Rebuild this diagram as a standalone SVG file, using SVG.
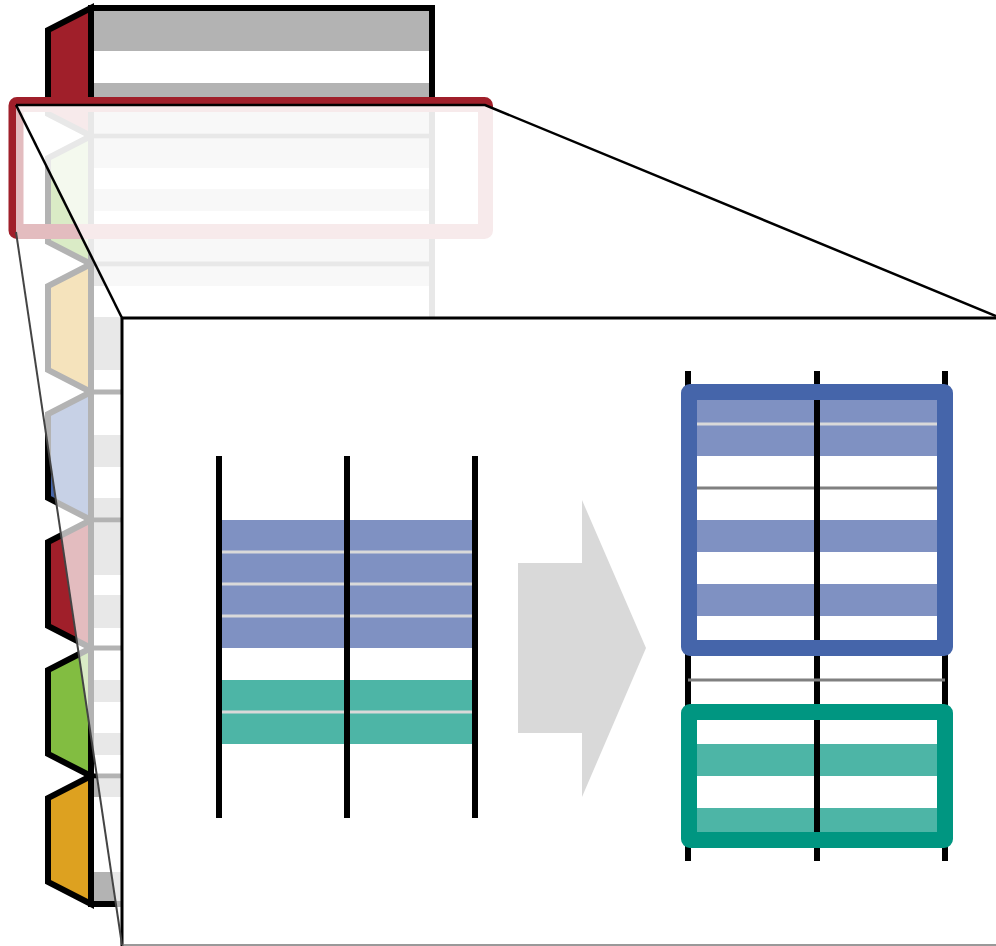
<svg xmlns="http://www.w3.org/2000/svg" width="996" height="946" viewBox="0 0 996 946">
  <style>
    .band { fill: #b3b3b3; }
    .rowline { stroke: #000; stroke-width: 5; }
    .tab { stroke: #000; stroke-width: 6; stroke-linejoin: miter; }
    .vbar { stroke: #000; stroke-width: 6; }
    .sep-light { stroke: #d9d9d9; stroke-width: 3; }
    .sep-dark { stroke: #808080; stroke-width: 3; }
    .blue { fill: #7f91c2; }
    .teal { fill: #4db5a6; }
  </style>

  <!-- full document: banded table with coloured side tabs -->
  <g id="document">
    <rect x="91" y="8" width="341" height="896" fill="#fff"/>
    <g class="bands">
      <rect class="band" x="94" y="11" width="335" height="40"/>
      <rect class="band" x="94" y="83" width="335" height="50"/>
      <rect class="band" x="94" y="139" width="335" height="29"/>
      <rect class="band" x="94" y="189" width="335" height="22"/>
      <rect class="band" x="94" y="239" width="335" height="23"/>
      <rect class="band" x="94" y="267" width="335" height="19"/>
      <rect class="band" x="94" y="317" width="335" height="53"/>
      <rect class="band" x="94" y="435" width="335" height="32"/>
      <rect class="band" x="94" y="498" width="335" height="20"/>
      <rect class="band" x="94" y="523" width="335" height="52"/>
      <rect class="band" x="94" y="595" width="335" height="33"/>
      <rect class="band" x="94" y="680" width="335" height="22"/>
      <rect class="band" x="94" y="733" width="335" height="22"/>
      <rect class="band" x="94" y="779" width="335" height="18"/>
      <rect class="band" x="94" y="872" width="335" height="30"/>
    </g>
    <g class="rows">
      <line class="rowline" x1="91" y1="136" x2="432" y2="136"/>
      <line class="rowline" x1="91" y1="264" x2="432" y2="264"/>
      <line class="rowline" x1="91" y1="392" x2="432" y2="392"/>
      <line class="rowline" x1="91" y1="520" x2="432" y2="520"/>
      <line class="rowline" x1="91" y1="648" x2="432" y2="648"/>
      <line class="rowline" x1="91" y1="776" x2="432" y2="776"/>
    </g>
    <g class="tabs">
      <polygon class="tab" fill="#a01f2a" points="91,8 48,30 48,114 91,136"/>
      <polygon class="tab" fill="#82bd41" points="91,136 48,158 48,242 91,264"/>
      <polygon class="tab" fill="#dda120" points="91,264 48,286 48,370 91,392"/>
      <polygon class="tab" fill="#4565aa" points="91,392 48,414 48,498 91,520"/>
      <polygon class="tab" fill="#a01f2a" points="91,520 48,542 48,626 91,648"/>
      <polygon class="tab" fill="#82bd41" points="91,648 48,670 48,754 91,776"/>
      <polygon class="tab" fill="#dda120" points="91,776 48,798 48,882 91,904"/>
    </g>
    <rect x="91" y="8" width="341" height="896" fill="none" stroke="#000" stroke-width="6"/>
  </g>

  <!-- selected region of the document -->
  <g id="selection">
    <rect x="16" y="104.5" width="469.5" height="127" rx="1" fill="none" stroke="#a01f2a" stroke-width="15" stroke-linejoin="round"/>
  </g>

  <!-- translucent faces of the magnifier cone -->
  <g id="cone">
    <polygon points="16,105 122,318 122,945 16,232" fill="#fff" fill-opacity="0.7"/>
    <polygon points="16,105 485,105 996,316 122,318" fill="#fff" fill-opacity="0.91"/>
  </g>

  <!-- magnified panel -->
  <g id="panel">
    <rect x="122" y="318" width="874" height="628" fill="#fff"/>
    <line x1="122" y1="318" x2="996" y2="318" stroke="#000" stroke-width="3"/>
    <line x1="122" y1="318" x2="122" y2="946" stroke="#000" stroke-width="3"/>
    <line x1="122" y1="945" x2="996" y2="945" stroke="#777" stroke-width="1.5"/>
  </g>

  <!-- table before grouping -->
  <g id="table-before">
    <rect class="blue" x="219" y="520" width="256" height="128"/>
    <rect class="teal" x="219" y="680" width="256" height="64"/>
    <line class="sep-light" x1="219" y1="552" x2="475" y2="552"/>
    <line class="sep-light" x1="219" y1="584" x2="475" y2="584"/>
    <line class="sep-light" x1="219" y1="616" x2="475" y2="616"/>
    <line class="sep-light" x1="219" y1="712" x2="475" y2="712"/>
    <line class="vbar" x1="219" y1="456" x2="219" y2="818"/>
    <line class="vbar" x1="347" y1="456" x2="347" y2="818"/>
    <line class="vbar" x1="475" y1="456" x2="475" y2="818"/>
  </g>

  <!-- transformation arrow -->
  <g id="arrow">
    <polygon points="518,563 582,563 582,500 646,648 582,797 582,733 518,733" fill="#d9d9d9"/>
  </g>

  <!-- table after grouping -->
  <g id="table-after">
    <line class="vbar" x1="688" y1="371" x2="688" y2="861"/>
    <line class="vbar" x1="817" y1="371" x2="817" y2="861"/>
    <line class="vbar" x1="945" y1="371" x2="945" y2="861"/>
    <line class="sep-dark" x1="688" y1="680" x2="945" y2="680"/>

    <g id="group-blue">
      <rect x="689" y="392" width="256" height="256" fill="#fff"/>
      <rect class="blue" x="689" y="392" width="256" height="64"/>
      <rect class="blue" x="689" y="520" width="256" height="32"/>
      <rect class="blue" x="689" y="584" width="256" height="32"/>
      <line class="sep-light" x1="689" y1="424" x2="945" y2="424"/>
      <line class="sep-dark" x1="689" y1="488" x2="945" y2="488"/>
      <line class="vbar" x1="817" y1="392" x2="817" y2="648"/>
      <rect x="689" y="392" width="256" height="256" rx="1" fill="none" stroke="#4565aa" stroke-width="16" stroke-linejoin="round"/>
    </g>

    <g id="group-teal">
      <rect x="689" y="712" width="256" height="128" fill="#fff"/>
      <rect class="teal" x="689" y="744" width="256" height="32"/>
      <rect class="teal" x="689" y="808" width="256" height="32"/>
      <line class="vbar" x1="817" y1="712" x2="817" y2="840"/>
      <rect x="689" y="712" width="256" height="128" rx="1" fill="none" stroke="#009681" stroke-width="16" stroke-linejoin="round"/>
    </g>
  </g>

  <!-- cone edges -->
  <g id="connectors" fill="none">
    <polyline points="16,105 485,105 996,316" stroke="#000" stroke-width="2.5"/>
    <line x1="16" y1="105" x2="122" y2="318" stroke="#000" stroke-width="2.5"/>
    <line x1="16" y1="232" x2="122" y2="945" stroke="#444" stroke-width="2"/>
  </g>
</svg>
